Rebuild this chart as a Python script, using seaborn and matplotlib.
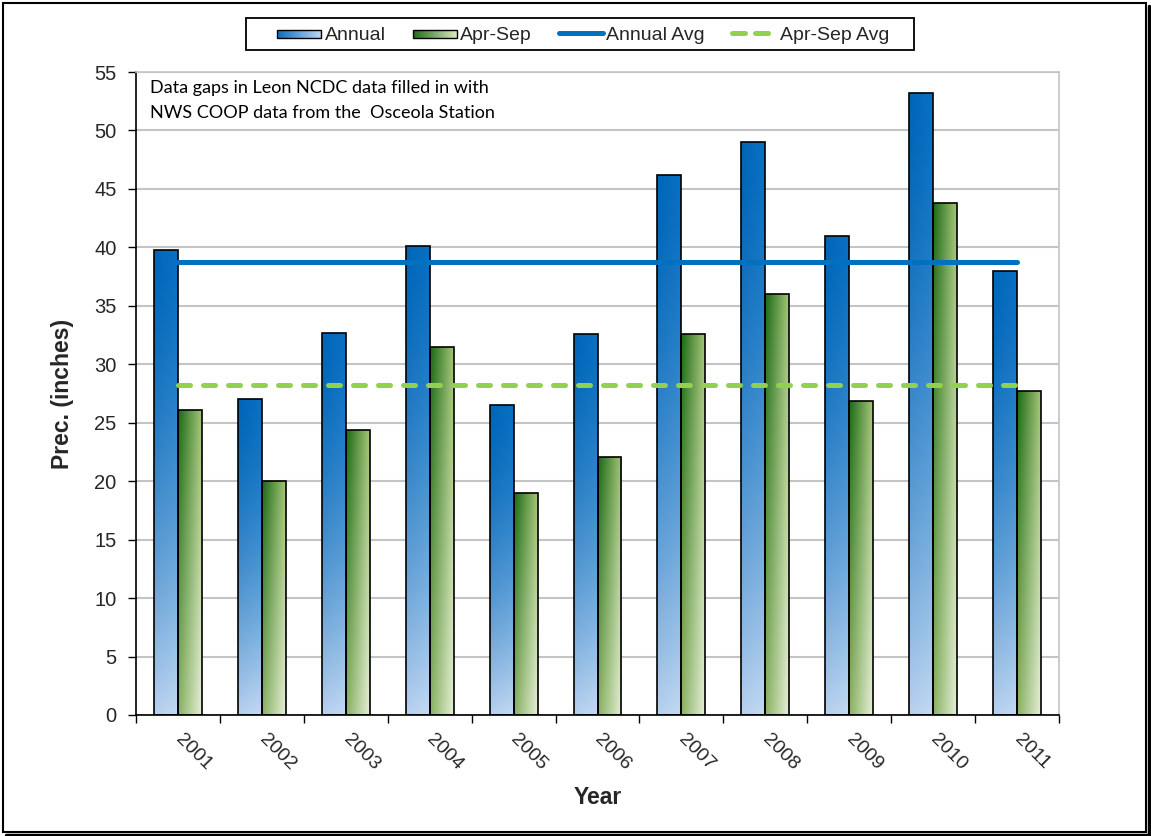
import numpy as np
import pandas as pd
import matplotlib
matplotlib.use("Agg")
import matplotlib.pyplot as plt
import seaborn as sns
from matplotlib.patches import Rectangle
from matplotlib.lines import Line2D
from matplotlib.legend_handler import HandlerBase
from matplotlib.colors import to_rgb

# Precipitation totals (inches)
years = ["2001", "2002", "2003", "2004", "2005", "2006",
         "2007", "2008", "2009", "2010", "2011"]
annual = [39.8, 27.0, 32.7, 40.1, 26.5, 32.6, 46.2, 49.0, 41.0, 53.2, 38.0]
apr_sep = [26.1, 20.0, 24.4, 31.5, 19.0, 22.1, 32.6, 36.0, 26.9, 43.8, 27.7]
series_names = ["Annual", "Apr-Sep"]
avg_names = ["Annual Avg", "Apr-Sep Avg"]
y_ticks = list(range(0, 60, 5))

annual_avg = float(np.mean(annual))
apr_sep_avg = float(np.mean(apr_sep))

df = pd.DataFrame({
    "Year": years * 2,
    "Series": [series_names[0]] * len(years) + [series_names[1]] * len(years),
    "Prec": annual + apr_sep,
})

sns.set_theme(style="white")
plt.rcParams["font.family"] = ["Liberation Sans", "DejaVu Sans"]

W, H = 1151, 836
fig = plt.figure(figsize=(W / 100, H / 100), dpi=100)
ax = fig.add_axes([136 / W, 1 - 715 / H, (1059 - 136) / W, (715 - 72) / H])

sns.barplot(data=df, x="Year", y="Prec", hue="Series", order=years,
            hue_order=series_names, width=0.57, gap=0, ax=ax, legend=False,
            edgecolor="black", linewidth=1.2, saturation=1)

# colour stops for the gradient fills (top-left, top-right, bottom-left, bottom-right)
blue_corners = [to_rgb("#0066b8"), to_rgb("#0a70c2"), to_rgb("#b6cfee"), to_rgb("#c2d9f2")]
green_corners = [to_rgb("#1c6a18"), to_rgb("#a2c374"), to_rgb("#8ab262"), to_rgb("#e4eed6")]


def gradient_image(corners, ny=120, nx=24, gamma=1.0):
    tl, tr, bl, br = [np.array(c) for c in corners]
    v = np.linspace(0, 1, ny)[:, None, None] ** gamma
    h = np.linspace(0, 1, nx)[None, :, None]
    top = tl * (1 - h) + tr * h
    bot = bl * (1 - h) + br * h
    return top * (1 - v) + bot * v


for container, corners, gamma in zip(ax.containers, [blue_corners, green_corners], [1.6, 1.0]):
    for patch in container.patches:
        x0, y0 = patch.get_x(), patch.get_y()
        w, h = patch.get_width(), patch.get_height()
        img = gradient_image(corners, gamma=gamma)
        im = ax.imshow(img, extent=[x0, x0 + w, y0, y0 + h], origin="upper",
                       aspect="auto", interpolation="bilinear", zorder=2.5)
        im.set_clip_path(patch)
        patch.set_facecolor("none")
        patch.set_zorder(3)

# average lines across the years
sns.lineplot(x=[0, len(years) - 1], y=[annual_avg, annual_avg], ax=ax,
             color="#0070c0", linewidth=3.6, solid_capstyle="round", zorder=4)
avg_line2 = ax.plot([0, len(years) - 1], [apr_sep_avg, apr_sep_avg],
                    color="#92d050", linewidth=3.6, zorder=4)[0]
avg_line2.set_dashes([2.4, 2.6])
avg_line2.set_dash_capstyle("round")

ax.set_xlim(-0.5, len(years) - 0.5)
ax.set_ylim(0, 55)
ax.set_yticks(y_ticks)
ax.set_yticklabels([str(t) for t in y_ticks], fontsize=14.5)
ax.grid(axis="y", color="#c4c4c4", linewidth=1.5, zorder=0)
ax.set_axisbelow(True)

ax.set_xticks(range(len(years)))
ax.set_xticklabels(years, fontsize=14, rotation=-45, ha="left", va="center",
                   rotation_mode="anchor")
ax.set_xticks(np.arange(-0.5, len(years), 1.0), minor=True)
ax.tick_params(axis="x", which="major", length=0, pad=16)
ax.tick_params(axis="x", which="minor", length=6, width=1, color="black", direction="out",
               bottom=True)
ax.tick_params(axis="y", length=6, width=1, color="black", direction="out", left=True, pad=8)

for side in ["left", "bottom"]:
    ax.spines[side].set_color("black")
    ax.spines[side].set_linewidth(1.2)
for side in ["top", "right"]:
    ax.spines[side].set_color("#c4c4c4")
    ax.spines[side].set_linewidth(1.2)

ax.set_xlabel("Year", fontsize=16.5, fontweight="bold")
ax.set_ylabel("Prec. (inches)", fontsize=16.5, fontweight="bold")
ax.xaxis.set_label_coords(0.5, (715 - 798) / 643)
ax.xaxis.label.set_va("center")
ax.yaxis.set_label_coords((62 - 136) / 923, 0.5)
ax.yaxis.label.set_va("center")

ax.text(14 / 923, (715 - 80) / 643,
        "Data gaps in Leon NCDC data filled in with\nNWS COOP data from the  Osceola Station",
        transform=ax.transAxes, ha="left", va="top", fontsize=13, linespacing=1.7,
        family=["Lato", "DejaVu Sans"], color="black", zorder=5,
        bbox=dict(facecolor="white", edgecolor="none", pad=1))


class GradientHandler(HandlerBase):
    def __init__(self, c_left, c_right, steps=30, frac=0.6):
        super().__init__()
        self.c_left = np.array(to_rgb(c_left))
        self.c_right = np.array(to_rgb(c_right))
        self.steps = steps
        self.frac = frac

    def create_artists(self, legend, orig_handle, xdescent, ydescent, width, height,
                       fontsize, trans):
        artists = []
        h = height * self.frac
        y0 = -ydescent + (height - h) / 2 - 1
        for i in range(self.steps):
            t = i / (self.steps - 1)
            col = self.c_left * (1 - t) + self.c_right * t
            artists.append(Rectangle((-xdescent + width * i / self.steps, y0),
                                     width / self.steps + 0.3, h, facecolor=col,
                                     edgecolor="none", transform=trans))
        artists.append(Rectangle((-xdescent, y0), width, h, facecolor="none",
                                 edgecolor="black", linewidth=1.0, transform=trans))
        return artists


h_annual = Rectangle((0, 0), 1, 1)
h_aprsep = Rectangle((0, 0), 1, 1)
h_avg1 = Line2D([], [], color="#0070c0", linewidth=3.6, solid_capstyle="round")
h_avg2 = Line2D([], [], color="#92d050", linewidth=3.6, dash_capstyle="round")
h_avg2.set_dashes([2.6, 2.0])

leg_fs = 14
leg = fig.legend([h_annual, h_aprsep, h_avg1, h_avg2],
                 [series_names[0], series_names[1], avg_names[0], avg_names[1]],
                 handler_map={h_annual: GradientHandler("#0a6cbe", "#bcd5f0"),
                              h_aprsep: GradientHandler("#1f6b1a", "#d6e6bc")},
                 loc="center", bbox_to_anchor=(583 / W, 1 - 35 / H), ncol=4,
                 frameon=False, prop={"size": leg_fs},
                 handlelength=31.7 / leg_fs, handletextpad=2.5 / leg_fs,
                 columnspacing=19.5 / leg_fs, borderpad=0)

# legend border box
fig.patches.append(Rectangle((246 / W, 1 - 50 / H), 668 / W, 32 / H,
                             transform=fig.transFigure, fill=False,
                             edgecolor="black", linewidth=1.3))

# outer chart frame with a slight shadow
fig.patches.append(Rectangle((3 / W, 4 / H), 1143 / W, 829 / H,
                             transform=fig.transFigure, fill=False,
                             edgecolor="black", linewidth=1.5))
fig.lines.append(Line2D([6 / W, 1148.5 / W], [1.5 / H, 1.5 / H],
                        transform=fig.transFigure, color="black", linewidth=2.5))
fig.lines.append(Line2D([1148.5 / W, 1148.5 / W], [1.5 / H, 830 / H],
                        transform=fig.transFigure, color="black", linewidth=2.5))

fig.savefig("out.png", dpi=100)
